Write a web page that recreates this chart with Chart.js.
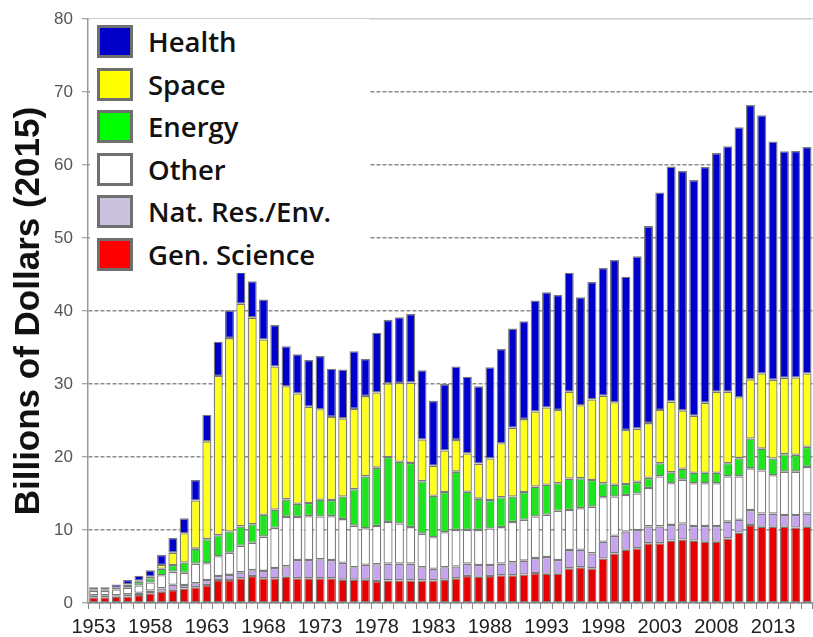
<!DOCTYPE html>
<html>
<head>
<meta charset="utf-8">
<script src="https://cdn.jsdelivr.net/npm/chart.js@4.4.1/dist/chart.umd.min.js"></script>
<style>
    html, body { margin: 0; padding: 0; background: #fff; overflow: hidden; }
    #wrap { position: relative; width: 813px; height: 637px; }
    #legend { position: absolute; left: 90px; top: 19px; width: 280px; height: 254px; background: #fff; }
    .item { position: absolute; left: 7px; height: 33px; display: flex; align-items: center; }
    .sw { width: 36px; height: 33px; box-sizing: border-box; border: 3px solid #6f6f6f; margin-right: 15px; }
    .lbl { font: 600 27.5px "Open Sans"; color: #111; white-space: nowrap; }
</style>
</head>
<body>
<div id="wrap">
    <canvas id="rd-chart" width="813" height="637"></canvas>
    <div id="legend"></div>
</div>
<script>
// Federal R&D by budget function, 1953-2016 (billions of 2015 dollars)
var years = ['1953','1954','1955','1956','1957','1958','1959','1960','1961','1962',
    '1963','1964','1965','1966','1967','1968','1969','1970','1971','1972',
    '1973','1974','1975','1976','1977','1978','1979','1980','1981','1982',
    '1983','1984','1985','1986','1987','1988','1989','1990','1991','1992',
    '1993','1994','1995','1996','1997','1998','1999','2000','2001','2002',
    '2003','2004','2005','2006','2007','2008','2009','2010','2011','2012',
    '2013','2014','2015','2016'];

var tickYears = ['1953','1958','1963','1968','1973','1978','1983','1988','1993','1998','2003','2008','2013'];

var genScience = [0.8, 0.8, 0.85, 0.9, 1.1, 1.35, 1.55, 1.8, 2.0, 2.15,
    2.45, 3.15, 3.15, 3.4, 3.7, 3.4, 3.4, 3.6, 3.4, 3.4,
    3.4, 3.4, 3.2, 3.2, 3.2, 3.0, 3.1, 3.1, 3.1, 3.1,
    3.1, 3.2, 3.4, 3.7, 3.6, 3.7, 3.8, 3.8, 3.9, 4.1,
    4.0, 4.0, 4.75, 4.9, 4.75, 6.1, 6.8, 7.3, 7.5, 8.2,
    8.2, 8.55, 8.7, 8.55, 8.4, 8.4, 8.85, 9.65, 10.7, 10.45,
    10.45, 10.45, 10.35, 10.45];

var natRes = [0.25, 0.25, 0.2, 0.3, 0.3, 0.35, 0.45, 0.7, 0.45, 0.55,
    0.7, 0.55, 0.7, 0.8, 0.8, 1.0, 1.4, 1.45, 2.5, 2.5,
    2.6, 2.5, 2.3, 1.7, 2.05, 2.3, 2.3, 2.3, 2.3, 1.8,
    1.6, 1.7, 1.6, 1.7, 1.6, 1.5, 1.6, 1.8, 1.9, 2.05,
    2.3, 1.9, 2.5, 2.4, 2.05, 2.3, 2.4, 2.5, 2.5, 2.3,
    2.3, 2.15, 2.2, 2.0, 2.15, 2.15, 2.3, 1.75, 2.05, 1.8,
    1.8, 1.6, 1.7, 1.8];

var other = [0.6, 0.6, 0.8, 0.9, 1.0, 1.1, 1.8, 1.8, 1.7, 2.7,
    2.3, 2.7, 3.05, 3.65, 3.75, 4.7, 5.5, 6.75, 5.9, 6.0,
    5.85, 6.0, 6.0, 5.7, 5.0, 5.25, 5.7, 5.5, 5.0, 4.6,
    4.3, 4.8, 5.0, 4.6, 4.8, 5.0, 5.0, 5.5, 5.6, 5.7,
    5.8, 6.75, 5.5, 5.7, 6.4, 6.1, 5.4, 5.0, 5.0, 5.25,
    6.85, 5.7, 6.0, 5.85, 5.85, 5.85, 6.2, 5.95, 5.7, 5.9,
    5.25, 5.95, 5.95, 6.4];

var energy = [0.1, 0.1, 0.2, 0.35, 0.5, 0.6, 0.9, 0.9, 1.4, 2.05,
    3.3, 2.9, 2.9, 2.65, 2.55, 3.0, 2.5, 2.4, 1.8, 1.8,
    2.3, 2.2, 3.1, 5.0, 7.1, 8.0, 8.9, 8.45, 8.8, 7.2,
    5.7, 5.5, 8.0, 5.25, 4.3, 3.9, 4.1, 3.5, 3.8, 4.1,
    4.1, 3.75, 4.3, 4.1, 3.65, 1.9, 1.6, 1.5, 1.6, 1.4,
    1.8, 1.5, 1.5, 1.45, 1.45, 1.45, 1.8, 2.5, 4.1, 3.0,
    2.3, 2.4, 2.3, 2.75];

var space = [0.05, 0.05, 0.05, 0.1, 0.15, 0.2, 0.5, 1.7, 4.0, 6.6,
    13.4, 21.8, 26.5, 30.5, 28.3, 24.0, 19.6, 15.5, 15.1, 13.2,
    12.4, 11.4, 10.7, 11.0, 11.0, 10.3, 10.1, 10.8, 11.0, 5.7,
    4.1, 5.7, 4.35, 5.25, 4.8, 5.7, 7.4, 9.4, 10.0, 10.3,
    10.6, 10.05, 11.9, 10.0, 11.05, 12.0, 11.3, 7.4, 7.3, 7.5,
    7.3, 9.7, 8.0, 7.8, 9.6, 11.1, 9.8, 8.35, 8.1, 10.3,
    10.8, 10.45, 10.6, 10.05];

var health = [0.35, 0.35, 0.45, 0.6, 0.7, 0.9, 1.4, 2.0, 2.05, 2.8,
    3.65, 4.7, 3.8, 4.35, 5.0, 5.5, 5.7, 5.5, 5.4, 6.4,
    7.3, 6.6, 6.7, 7.9, 5.1, 8.2, 8.7, 9.0, 9.4, 9.5,
    8.9, 9.1, 10.05, 10.5, 10.6, 12.5, 12.9, 13.6, 13.4, 15.2,
    15.8, 15.75, 16.3, 14.8, 16.1, 17.5, 19.5, 21.0, 23.6, 27.0,
    29.8, 32.2, 32.8, 32.3, 32.3, 32.7, 33.65, 37.0, 37.6, 35.4,
    32.65, 31.05, 31.05, 31.05];

// Stack order bottom -> top
var seriesNames = ['Gen. Science', 'Nat. Res./Env.', 'Other', 'Energy', 'Space', 'Health'];
var seriesData = [genScience, natRes, other, energy, space, health];
var seriesColors = ['#e60000', '#c6a4ee', '#ffffff', '#1ee61e', '#ffff1e', '#0000cc'];
var swatchColors = ['#ff0000', '#cbc3de', '#ffffff', '#00ff00', '#ffff00', '#0000c8'];

(function() {
    'use strict';

    Chart.defaults.font.family = '"Liberation Sans", Arial, sans-serif';

    var datasets = seriesNames.map(function(name, i) {
        return {
            label: name,
            data: seriesData[i],
            backgroundColor: seriesColors[i],
            borderColor: '#7a7a7a',
            borderWidth: 1.3,
            borderSkipped: false,
            barPercentage: 0.8,
            categoryPercentage: 1.0
        };
    });

    // Legend (top item = top of stack)
    var legendEl = document.getElementById('legend');
    for (var k = seriesNames.length - 1, row = 0; k >= 0; k--, row++) {
        var item = document.createElement('div');
        item.className = 'item';
        item.style.top = (6 + row * 42.5) + 'px';
        var sw = document.createElement('div');
        sw.className = 'sw';
        sw.style.background = swatchColors[k];
        var lbl = document.createElement('span');
        lbl.className = 'lbl';
        lbl.textContent = seriesNames[k];
        item.appendChild(sw);
        item.appendChild(lbl);
        legendEl.appendChild(item);
    }

    var ctx = document.getElementById('rd-chart').getContext('2d');

    new Chart(ctx, {
        type: 'bar',
        data: {
            labels: years,
            datasets: datasets
        },
        options: {
            responsive: false,
            animation: false,
            layout: {
                padding: { top: 19, right: 0, bottom: 0, left: 0 }
            },
            plugins: {
                legend: { display: false },
                tooltip: { enabled: false }
            },
            scales: {
                x: {
                    stacked: true,
                    offset: true,
                    grid: {
                        drawOnChartArea: false,
                        drawTicks: true,
                        tickLength: 6,
                        tickColor: '#888888',
                        tickWidth: 1
                    },
                    border: {
                        color: '#888888',
                        width: 1.5
                    },
                    ticks: {
                        autoSkip: false,
                        maxRotation: 0,
                        minRotation: 0,
                        padding: 6,
                        color: '#222222',
                        font: { size: 20 },
                        callback: function(value, index) {
                            var y = years[index];
                            return tickYears.indexOf(y) >= 0 ? y : '';
                        }
                    },
                    afterFit: function(scale) {
                        scale.height = 34;
                    }
                },
                y: {
                    stacked: true,
                    min: 0,
                    max: 80,
                    ticks: {
                        stepSize: 10,
                        padding: 9,
                        color: '#555555',
                        font: { size: 17 }
                    },
                    grid: {
                        color: function(c) {
                            return c.tick && c.tick.value === 80 ? '#cccccc' : '#8c8c8c';
                        },
                        lineWidth: 1.5,
                        tickLength: 6,
                        tickColor: '#888888',
                        tickWidth: 1
                    },
                    border: {
                        color: '#999999',
                        width: 1.5,
                        dash: function(c) {
                            return c.tick && c.tick.value === 80 ? [] : [4, 2];
                        }
                    },
                    title: {
                        display: true,
                        text: 'Billions of Dollars (2015)',
                        color: '#111111',
                        font: { size: 35, weight: 'bold' },
                        padding: { top: 8, bottom: 0 }
                    },
                    afterFit: function(scale) {
                        scale.width = 88;
                    }
                }
            }
        }
    });
})();
</script>
</body>
</html>
